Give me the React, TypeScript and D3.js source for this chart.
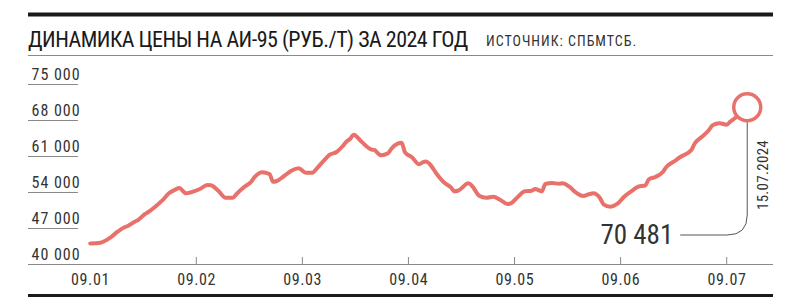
import React from "react";
import * as d3 from "d3";

const monthLabels = ["09.01", "09.02", "09.03", "09.04", "09.05", "09.06", "09.07"];
const yTicks = [40000, 47000, 54000, 61000, 68000, 75000];

const dates = [
  "2024-01-09", "2024-01-12", "2024-01-15", "2024-01-17", "2024-01-19", "2024-01-20", "2024-01-22", "2024-01-23",
  "2024-01-25", "2024-01-26", "2024-01-28", "2024-01-30", "2024-02-01", "2024-02-03", "2024-02-04", "2024-02-06",
  "2024-02-07", "2024-02-10", "2024-02-12", "2024-02-13", "2024-02-15", "2024-02-17", "2024-02-19", "2024-02-20",
  "2024-02-22", "2024-02-24", "2024-02-25", "2024-02-27", "2024-02-29", "2024-03-01", "2024-03-02", "2024-03-04",
  "2024-03-06", "2024-03-08", "2024-03-10", "2024-03-12", "2024-03-13", "2024-03-15", "2024-03-17", "2024-03-19",
  "2024-03-21", "2024-03-22", "2024-03-23", "2024-03-24", "2024-03-26", "2024-03-27", "2024-03-29", "2024-03-30",
  "2024-04-01", "2024-04-03", "2024-04-04", "2024-04-06", "2024-04-07", "2024-04-08", "2024-04-10", "2024-04-12",
  "2024-04-13", "2024-04-14", "2024-04-15", "2024-04-17", "2024-04-19", "2024-04-21", "2024-04-22", "2024-04-23",
  "2024-04-26", "2024-04-27", "2024-04-29", "2024-05-01", "2024-05-03", "2024-05-05", "2024-05-07", "2024-05-08",
  "2024-05-10", "2024-05-12", "2024-05-14", "2024-05-15", "2024-05-17", "2024-05-18", "2024-05-20", "2024-05-22",
  "2024-05-23", "2024-05-25", "2024-05-27", "2024-05-29", "2024-05-31", "2024-06-01", "2024-06-03", "2024-06-04",
  "2024-06-06", "2024-06-08", "2024-06-10", "2024-06-12", "2024-06-14", "2024-06-16", "2024-06-17", "2024-06-19",
  "2024-06-21", "2024-06-22", "2024-06-24", "2024-06-26", "2024-06-29", "2024-06-30", "2024-07-02", "2024-07-04",
  "2024-07-05", "2024-07-07", "2024-07-09", "2024-07-10", "2024-07-12", "2024-07-15",
];

const prices = [
  44000, 44140, 45190, 46280, 47140, 47390, 48230, 48560,
  49720, 50110, 51140, 52310, 53750, 54520, 54780, 53750,
  53860, 54580, 55360, 55300, 54250, 52890, 52890, 53610,
  54910, 56000, 56920, 57830, 57500, 56000, 56140, 57110,
  58140, 58610, 57750, 57750, 58410, 59890, 61250, 61780,
  63080, 63860, 64360, 65140, 63970, 63330, 62300, 62170,
  61140, 61520, 62420, 63470, 63590, 61720, 60750, 59390,
  59780, 59930, 59440, 57500, 55890, 54910, 54140, 54250,
  55690, 55170, 53280, 52890, 53090, 52440, 51670, 51800,
  53090, 54140, 54250, 54580, 54140, 55560, 55750, 55610,
  55690, 55030, 53860, 53220, 53610, 53750, 52780, 51610,
  51140, 51670, 53090, 54140, 55030, 55300, 56470, 56980,
  57950, 58920, 59890, 60860, 62170, 63470, 64750, 66060,
  66970, 67360, 67090, 67670, 68640, 70481,
];

const title = "ДИНАМИКА ЦЕНЫ НА АИ-95 (РУБ./Т) ЗА 2024 ГОД";
const source = "ИСТОЧНИК: СПБМТСБ.";
const lastLabel = "70 481";
const lastDate = "15.07.2024";

const FONT = "'Liberation Sans Narrow', 'Roboto Condensed', 'DejaVu Sans Condensed', 'Arial Narrow', sans-serif";
const RED = "#e8726b";

// month-position: each 9th-to-9th month interval takes one unit
function monthPos(s: string): number {
  const d = new Date(s + "T00:00:00Z");
  const y = d.getUTCFullYear();
  let m = d.getUTCMonth();
  if (d.getUTCDate() < 9) {
    m -= 1;
  }
  const start = Date.UTC(y, m, 9);
  const end = Date.UTC(y, m + 1, 9);
  return m + (d.getTime() - start) / (end - start);
}

export default function App() {
  const W = 800, H = 303;
  const left = 28, right = 773;
  const x = d3.scaleLinear().domain([0, 6]).range([90.2, 726.7]);
  const y = d3.scaleLinear().domain([40000, 75000]).range([264, 84]);

  const pts: [number, number][] = dates.map((d, i) => [x(monthPos(d)), y(prices[i])]);
  const line = d3.line().curve(d3.curveMonotoneX)(pts) || "";

  const [lx, ly] = pts[pts.length - 1];
  const r = 13.5;
  const hy = 235;
  const cr = 20;
  const annot = `M${lx},${ly + r} V${hy - cr} Q${lx},${hy} ${lx - cr},${hy} H${lx - 67}`;

  return (
    <svg width={W} height={H} style={{ position: "absolute", left: 0, top: 0, background: "#fff" }} fontFamily={FONT}>
      <rect x={0} y={0} width={W} height={H} fill="#fff" />
      <line x1={left} x2={right} y1={14.5} y2={14.5} stroke="#1a1a1a" strokeWidth={4} />
      <text x={left} y={46.5} fontSize={22} letterSpacing={-0.5} fill="#1a1a1a">{title}</text>
      <text x={486} y={45.5} fontSize={14} letterSpacing={1} fill="#333">{source}</text>
      <line x1={left} x2={right} y1={55.5} y2={55.5} stroke="#8a8a8a" strokeWidth={1} />

      {yTicks.map((t) => (
        <g key={t}>
          {t !== 40000 && <line x1={left} x2={78} y1={y(t) + 0.5} y2={y(t) + 0.5} stroke="#8a8a8a" strokeWidth={1} />}
          <text x={31.5} y={y(t) - 4} fontSize={16} letterSpacing={1} fill="#333">{d3.format(",")(t).replace(",", " ")}</text>
        </g>
      ))}

      <line x1={left} x2={right} y1={264.5} y2={264.5} stroke="#8a8a8a" strokeWidth={1} />
      {monthLabels.map((lab, i) => (
        <g key={lab}>
          {i > 0 && <line x1={x(i)} x2={x(i)} y1={257} y2={264} stroke="#8a8a8a" strokeWidth={1} />}
          <text x={x(i) + 0.3} y={285} fontSize={16} letterSpacing={0.6} fill="#333" textAnchor="middle">{lab}</text>
        </g>
      ))}
      <line x1={left} x2={right} y1={295.5} y2={295.5} stroke="#1a1a1a" strokeWidth={3} />

      <path d={line} fill="none" stroke={RED} strokeWidth={4} strokeLinejoin="round" strokeLinecap="round" />

      <path d={annot} fill="none" stroke="#555" strokeWidth={1} />
      <circle cx={lx} cy={ly} r={r} fill="#fff" stroke={RED} strokeWidth={3.5} />
      <text x={lx - 74} y={243.5} fontSize={27} fill="#333" textAnchor="end">{lastLabel}</text>
      <text transform={`translate(${lx + 20.5},175) rotate(-90)`} fontSize={15} letterSpacing={0.3} fill="#333" textAnchor="middle">{lastDate}</text>
    </svg>
  );
}
